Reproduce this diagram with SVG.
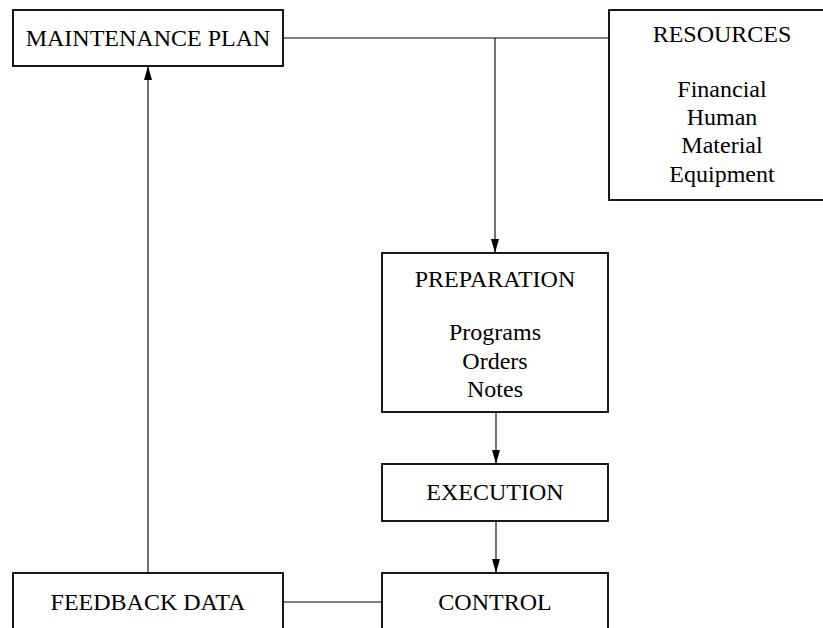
<svg xmlns="http://www.w3.org/2000/svg" width="823" height="628" viewBox="0 0 823 628">
  <style>
    .box { fill: #ffffff; stroke: #000000; stroke-width: 1.8; }
    .wire { fill: none; stroke: #000000; stroke-width: 1.1; }
    .arrow { fill: none; stroke: #000000; stroke-width: 1.1; marker-end: url(#head); }
    text { font-family: "Liberation Serif", "Times New Roman", serif; font-size: 24px; fill: #000000; text-anchor: middle; }
  </style>
  <defs>
    <marker id="head" viewBox="0 0 14 8" refX="14" refY="4" markerWidth="14" markerHeight="8" markerUnits="userSpaceOnUse" orient="auto">
      <path d="M0,0 L14,4 L0,8 Z" fill="#000000"/>
    </marker>
  </defs>

  <rect width="823" height="628" fill="#ffffff"/>

  <!-- connectors -->
  <g id="connectors">
    <line class="wire" x1="283" y1="38" x2="609" y2="38"/>
    <line class="arrow" x1="495" y1="38" x2="495" y2="253"/>
    <line class="arrow" x1="496" y1="412" x2="496" y2="464"/>
    <line class="arrow" x1="496" y1="521" x2="496" y2="573"/>
    <line class="wire" x1="283" y1="602" x2="382" y2="602"/>
    <line class="arrow" x1="148" y1="573" x2="148" y2="66"/>
  </g>

  <!-- nodes -->
  <g id="maintenance-plan">
    <rect class="box" x="13" y="10" width="270" height="56"/>
    <text x="148" y="46">MAINTENANCE PLAN</text>
  </g>

  <g id="resources">
    <rect class="box" x="609" y="10" width="226" height="190"/>
    <text x="722" y="42">RESOURCES</text>
    <text x="722" y="97">Financial</text>
    <text x="722" y="125">Human</text>
    <text x="722" y="153">Material</text>
    <text x="722" y="182">Equipment</text>
  </g>

  <g id="preparation">
    <rect class="box" x="382" y="253" width="226" height="159"/>
    <text x="495" y="287">PREPARATION</text>
    <text x="495" y="340">Programs</text>
    <text x="495" y="369">Orders</text>
    <text x="495" y="397">Notes</text>
  </g>

  <g id="execution">
    <rect class="box" x="382" y="464" width="226" height="57"/>
    <text x="495" y="500">EXECUTION</text>
  </g>

  <g id="control">
    <rect class="box" x="382" y="573" width="226" height="70"/>
    <text x="495" y="610">CONTROL</text>
  </g>

  <g id="feedback-data">
    <rect class="box" x="13" y="573" width="270" height="70"/>
    <text x="148" y="610">FEEDBACK DATA</text>
  </g>
</svg>
